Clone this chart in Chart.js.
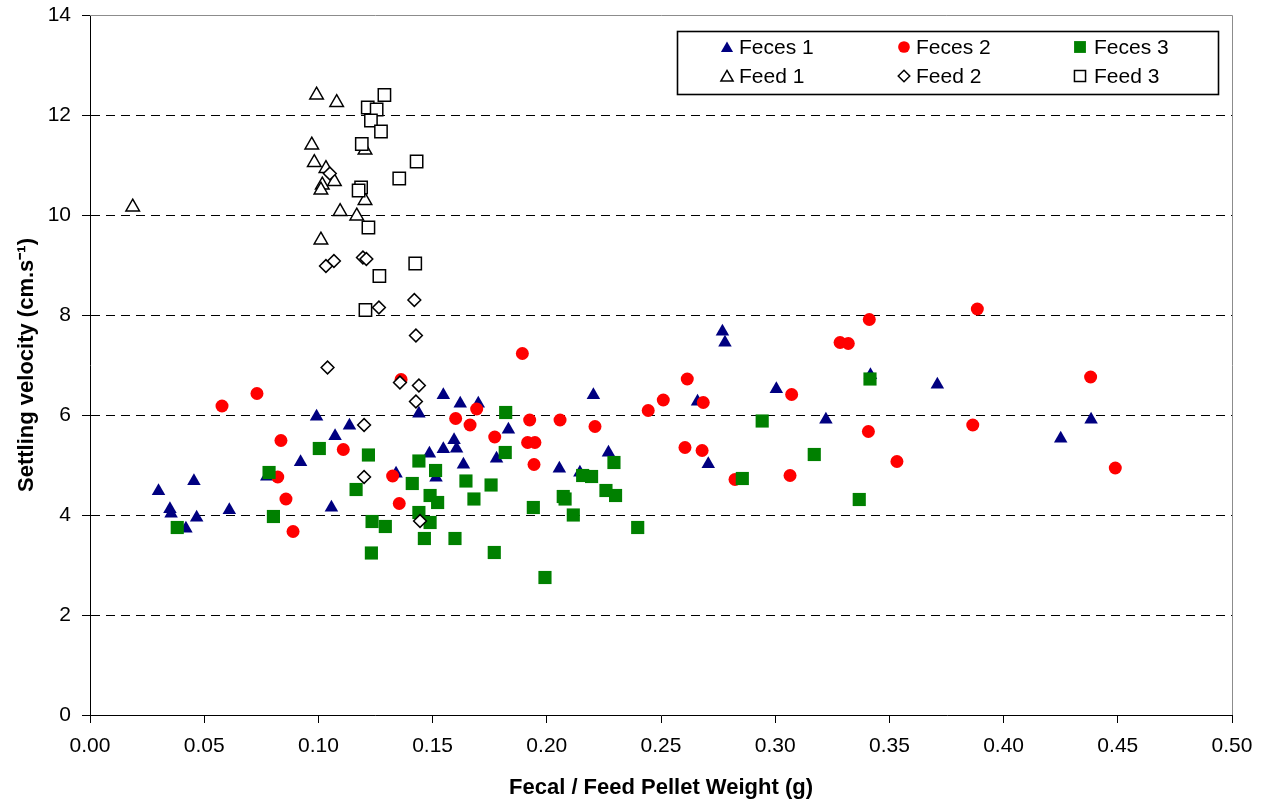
<!DOCTYPE html>
<html>
<head>
<meta charset="utf-8">
<script src="https://cdn.jsdelivr.net/npm/chart.js"></script>
<style>
  html, body { margin: 0; padding: 0; background: #ffffff; }
  #wrap { width: 1265px; height: 804px; }
  canvas { display: block; }
</style>
</head>
<body>
<div id="wrap"><canvas id="c" width="1265" height="804" style="width:1265px;height:804px"></canvas></div>
<script>
// ---- Data ----
const seriesLabels = ['Feces 1', 'Feces 2', 'Feces 3', 'Feed 1', 'Feed 2', 'Feed 3'];

const feces1X = [0.030, 0.035, 0.0355, 0.042, 0.0455, 0.0467, 0.061, 0.0774, 0.0922, 0.0992, 0.1073, 0.1136, 0.1057, 0.134, 0.144, 0.1547, 0.1621, 0.170, 0.1486, 0.1547, 0.1594, 0.1605, 0.1635, 0.1515, 0.1832, 0.178, 0.2055, 0.2145, 0.2204, 0.227, 0.266, 0.2769, 0.278, 0.2707, 0.3005, 0.3222, 0.3417, 0.371, 0.425, 0.4383];
const feces1Y = [4.48, 4.12, 4.03, 3.73, 4.68, 3.95, 4.10, 4.77, 5.06, 5.97, 5.58, 5.79, 4.15, 4.83, 6.03, 6.40, 6.23, 6.23, 5.23, 5.32, 5.50, 5.33, 5.01, 4.75, 5.71, 5.13, 4.93, 4.85, 6.40, 5.25, 6.27, 7.67, 7.45, 5.02, 6.52, 5.91, 6.80, 6.61, 5.53, 5.91];

const feces2X = [0.0578, 0.0731, 0.0836, 0.0822, 0.0858, 0.0889, 0.1109, 0.1325, 0.1354, 0.1362, 0.1893, 0.1693, 0.1601, 0.1664, 0.1772, 0.1925, 0.1916, 0.1948, 0.1944, 0.2058, 0.2211, 0.2444, 0.251, 0.2615, 0.2605, 0.268, 0.2685, 0.2824, 0.3072, 0.3065, 0.3284, 0.332, 0.3412, 0.3408, 0.3533, 0.3865, 0.3885, 0.4381, 0.4489];
const feces2Y = [6.18, 6.43, 5.49, 4.76, 4.32, 3.67, 5.31, 4.78, 4.23, 6.71, 7.23, 6.12, 5.93, 5.80, 5.56, 5.90, 5.45, 5.45, 5.01, 5.90, 5.77, 6.09, 6.30, 6.72, 5.35, 5.29, 6.25, 4.71, 6.41, 4.79, 7.45, 7.43, 7.91, 5.67, 5.07, 5.80, 8.12, 6.76, 4.94];

const feces3X = [0.0382, 0.0784, 0.0803, 0.1004, 0.1219, 0.1165, 0.1235, 0.1293, 0.1232, 0.1411, 0.144, 0.1513, 0.1489, 0.1522, 0.144, 0.1489, 0.1464, 0.1598, 0.1646, 0.1681, 0.1756, 0.177, 0.182, 0.1818, 0.1941, 0.1992, 0.2072, 0.208, 0.2116, 0.2157, 0.2196, 0.2259, 0.2301, 0.2294, 0.2398, 0.2856, 0.2943, 0.3171, 0.3368, 0.3415];
const feces3Y = [3.75, 4.85, 3.97, 5.33, 5.20, 4.51, 3.87, 3.77, 3.24, 4.63, 5.08, 4.89, 4.39, 4.25, 4.05, 3.85, 3.53, 3.53, 4.68, 4.32, 4.60, 3.25, 6.05, 5.25, 4.15, 2.75, 4.37, 4.32, 4.00, 4.79, 4.77, 4.49, 4.39, 5.05, 3.75, 4.73, 5.88, 5.21, 4.31, 6.72];

const feed1X = [0.0187, 0.0992, 0.108, 0.0971, 0.1204, 0.0982, 0.1033, 0.107, 0.1017, 0.1011, 0.1204, 0.1095, 0.1168, 0.1011];
const feed1Y = [10.16, 12.40, 12.25, 11.40, 11.30, 11.05, 10.93, 10.67, 10.60, 10.50, 10.29, 10.07, 9.98, 9.50];

const feed2X = [0.105, 0.1033, 0.1068, 0.1195, 0.121, 0.142, 0.1265, 0.1427, 0.104, 0.1357, 0.144, 0.1427, 0.120, 0.120, 0.1445];
const feed2Y = [10.83, 8.98, 9.08, 9.15, 9.12, 8.30, 8.15, 7.59, 6.95, 6.65, 6.59, 6.27, 5.80, 4.76, 3.88];

const feed3X = [0.1289, 0.1216, 0.1255, 0.123, 0.1274, 0.119, 0.143, 0.1354, 0.1187, 0.1176, 0.1219, 0.1424, 0.1267, 0.1206];
const feed3Y = [12.40, 12.15, 12.11, 11.89, 11.67, 11.42, 11.07, 10.73, 10.55, 10.49, 9.75, 9.03, 8.78, 8.10];

const xTickValues = [0, 0.05, 0.10, 0.15, 0.20, 0.25, 0.30, 0.35, 0.40, 0.45, 0.50];
const yTickValues = [0, 2, 4, 6, 8, 10, 12, 14];
const xTitle = 'Fecal / Feed Pellet Weight (g)';
const yTitle = 'Settling velocity (cm.s\u207B\u00B9)';

// ---- Build chart ----
const FONT = "'Liberation Sans', Arial, Helvetica, sans-serif";
function pts(xs, ys) { return xs.map((x, i) => ({ x: x, y: ys[i] })); }

const styles = [
  { pointStyle: 'triangle', radius: 7.8, bg: '#000080', border: '#000080', bw: 0 },
  { pointStyle: 'circle',   radius: 6.5, bg: '#FF0000', border: '#FF0000', bw: 0 },
  { pointStyle: 'rect',     radius: 9.3, bg: '#008000', border: '#008000', bw: 0 },
  { pointStyle: 'triangle', radius: 7.8, bg: '#FFFFFF', border: '#000000', bw: 1.5 },
  { pointStyle: 'rectRot',  radius: 6.4, bg: '#FFFFFF', border: '#000000', bw: 1.5 },
  { pointStyle: 'rect',     radius: 8.7, bg: '#FFFFFF', border: '#000000', bw: 1.5 }
];
const seriesData = [
  pts(feces1X, feces1Y), pts(feces2X, feces2Y), pts(feces3X, feces3Y),
  pts(feed1X, feed1Y), pts(feed2X, feed2Y), pts(feed3X, feed3Y)
];

const datasets = seriesLabels.map((lab, i) => ({
  label: lab,
  data: seriesData[i],
  pointStyle: styles[i].pointStyle,
  pointRadius: styles[i].radius,
  pointHoverRadius: styles[i].radius,
  backgroundColor: styles[i].bg,
  borderColor: styles[i].border,
  pointBackgroundColor: styles[i].bg,
  pointBorderColor: styles[i].border,
  pointBorderWidth: styles[i].bw,
  borderWidth: styles[i].bw,
  showLine: false,
  order: seriesLabels.length - 1 - i
}));

function drawMarker(ctx, style, x, y, r, fill, stroke, lw) {
  ctx.save();
  ctx.beginPath();
  if (style === 'triangle') {
    ctx.moveTo(x, y - r);
    ctx.lineTo(x + r * Math.sin(2 * Math.PI / 3), y - r * Math.cos(2 * Math.PI / 3));
    ctx.lineTo(x + r * Math.sin(4 * Math.PI / 3), y - r * Math.cos(4 * Math.PI / 3));
    ctx.closePath();
  } else if (style === 'circle') {
    ctx.arc(x, y, r, 0, Math.PI * 2);
  } else if (style === 'rect') {
    const s = r * Math.SQRT1_2;
    ctx.rect(x - s, y - s, 2 * s, 2 * s);
  } else if (style === 'rectRot') {
    ctx.moveTo(x - r, y); ctx.lineTo(x, y - r); ctx.lineTo(x + r, y); ctx.lineTo(x, y + r);
    ctx.closePath();
  }
  ctx.fillStyle = fill;
  ctx.fill();
  if (lw > 0) { ctx.lineWidth = lw; ctx.strokeStyle = stroke; ctx.stroke(); }
  ctx.restore();
}

const frameAndLegend = {
  id: 'frameAndLegend',
  beforeDatasetsDraw(chart) {
    const { ctx, chartArea: a } = chart;
    ctx.save();
    ctx.strokeStyle = '#8c8c8c';
    ctx.lineWidth = 1;
    ctx.beginPath();
    ctx.moveTo(a.left, a.top + 0.5);
    ctx.lineTo(a.right + 0.5, a.top + 0.5);
    ctx.lineTo(a.right + 0.5, a.bottom);
    ctx.stroke();
    ctx.restore();
  },
  afterDraw(chart) {
    const ctx = chart.ctx;
    const box = { x: 677, y: 31, w: 541, h: 63 };
    ctx.save();
    ctx.fillStyle = '#ffffff';
    ctx.fillRect(box.x, box.y, box.w, box.h);
    ctx.strokeStyle = '#000000';
    ctx.lineWidth = 1.6;
    ctx.strokeRect(box.x + 0.5, box.y + 0.5, box.w, box.h);
    const colMarkerX = [727, 904, 1080];
    const colTextX = [739, 916, 1094];
    const rowY = [47, 76];
    chart.data.datasets.forEach((ds, i) => {
      const col = i % 3, row = Math.floor(i / 3);
      const st = styles[i];
      drawMarker(ctx, st.pointStyle, colMarkerX[col], rowY[row] + (st.pointStyle === 'triangle' ? 1.5 : 0),
                 st.radius * 0.9, st.bg, st.border, st.bw);
      ctx.fillStyle = '#000000';
      ctx.font = '21px ' + FONT;
      ctx.textAlign = 'left';
      ctx.textBaseline = 'middle';
      ctx.fillText(ds.label, colTextX[col], rowY[row] + 1);
    });
    ctx.restore();
  }
};

new Chart(document.getElementById('c'), {
  type: 'scatter',
  data: { datasets: datasets },
  options: {
    responsive: false,
    devicePixelRatio: 1,
    animation: false,
    events: [],
    layout: { padding: { top: 15, right: 33, bottom: 0, left: 0 } },
    plugins: {
      legend: { display: false },
      tooltip: { enabled: false },
      title: { display: false }
    },
    scales: {
      x: {
        type: 'linear',
        min: 0, max: 0.5,
        afterBuildTicks: (s) => { s.ticks = xTickValues.map(v => ({ value: v })); },
        afterFit: (s) => { s.height = 89; s.paddingLeft = 0; s.paddingRight = 0; },
        ticks: {
          color: '#000000',
          font: { family: FONT, size: 21 },
          padding: 11,
          maxRotation: 0,
          autoSkip: false,
          callback: (v) => Number(v).toFixed(2)
        },
        grid: {
          drawOnChartArea: false,
          drawTicks: true,
          tickLength: 8,
          tickColor: '#000000',
          color: '#000000'
        },
        border: { display: true, color: '#000000', width: 1 },
        title: {
          display: true,
          text: xTitle,
          color: '#000000',
          font: { family: FONT, size: 22, weight: 'bold' },
          padding: { top: 0, bottom: 3 }
        }
      },
      y: {
        type: 'linear',
        min: 0, max: 14,
        afterBuildTicks: (s) => { s.ticks = yTickValues.map(v => ({ value: v })); },
        afterFit: (s) => { s.width = 90; s.paddingTop = 0; s.paddingBottom = 0; },
        ticks: {
          color: '#000000',
          font: { family: FONT, size: 21 },
          padding: 11,
          autoSkip: false,
          callback: (v) => String(v)
        },
        grid: {
          drawOnChartArea: true,
          drawTicks: true,
          tickLength: 8,
          tickColor: '#000000',
          lineWidth: 1,
          color: (c) => (c.tick && (c.tick.value === 0 || c.tick.value === 14)) ? 'rgba(0,0,0,0)' : '#000000'
        },
        border: { display: true, color: '#000000', width: 1, dash: [9, 6] },
        title: {
          display: true,
          text: yTitle,
          color: '#000000',
          font: { family: FONT, size: 22, weight: 'bold' },
          padding: { top: 14, bottom: 0 }
        }
      }
    }
  },
  plugins: [frameAndLegend]
});
</script>
</body>
</html>
